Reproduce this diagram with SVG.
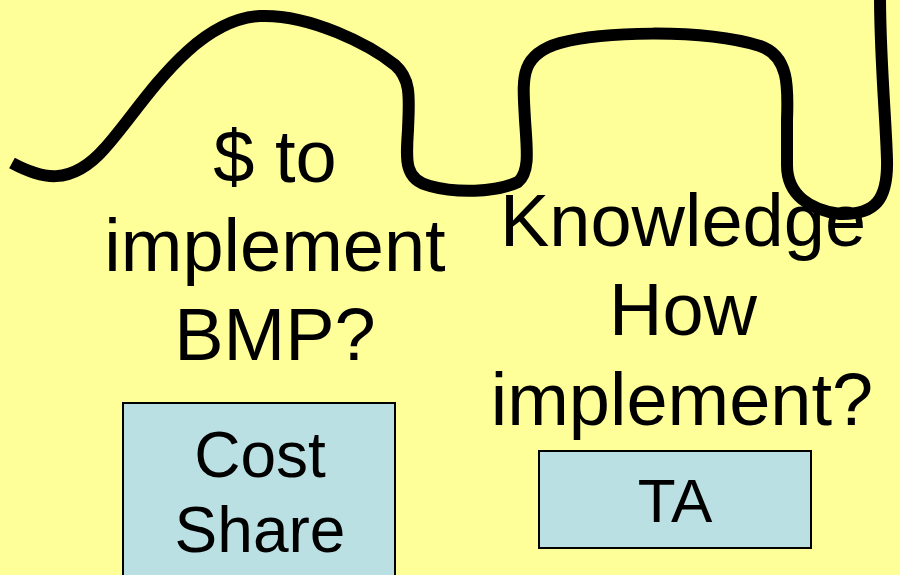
<svg xmlns="http://www.w3.org/2000/svg" width="900" height="575" viewBox="0 0 900 575">
  <style>
    .t { font-family: "Liberation Sans", Arial, sans-serif; fill: #000; text-anchor: middle; }
    .big { font-size: 74px; }
    .box { fill: #BBE0E3; stroke: #000; stroke-width: 2; }
    .boxt { font-size: 64px; }
    .wave { fill: none; stroke: #000; stroke-width: 12; stroke-linecap: butt; stroke-linejoin: round; }
  </style>
  <rect x="0" y="0" width="900" height="575" fill="#FFFF99"/>
  <g id="connectors">
    <path class="wave" d="M 12,163 C 40,178 70,188 105,148 C 140,110 190,20 260,16 C 310,14 370,45 395,65 C 412,80 409,100 408,130 C 406,160 404,180 430,186 C 455,193 495,193 518,182 C 530,172 527,150 525,120 C 523,80 518,55 560,43 C 600,32 700,28 760,46 C 790,56 788,90 787,120 L 787,165 C 787,195 810,210 840,214 C 875,215 888,200 887,160 C 886,120 880,60 880,-5"/>
  </g>
  <g id="question-cost">
    <text class="t big" x="275" y="182">$ to</text>
    <text class="t big" x="275" y="271">implement</text>
    <text class="t big" x="275" y="360">BMP?</text>
  </g>
  <g id="question-knowledge">
    <text class="t big" x="683" y="246">Knowledge</text>
    <text class="t big" x="683" y="335">How</text>
    <text class="t big" x="682" y="425">implement?</text>
  </g>
  <g id="cost-share">
    <rect class="box" x="123" y="403" width="272" height="185"/>
    <text class="t boxt" x="260" y="477">Cost</text>
    <text class="t boxt" x="260" y="552">Share</text>
  </g>
  <g id="ta">
    <rect class="box" x="539" y="451" width="272" height="97"/>
    <text class="t boxt" x="675" y="522" style="font-size:62px">TA</text>
  </g>
</svg>
